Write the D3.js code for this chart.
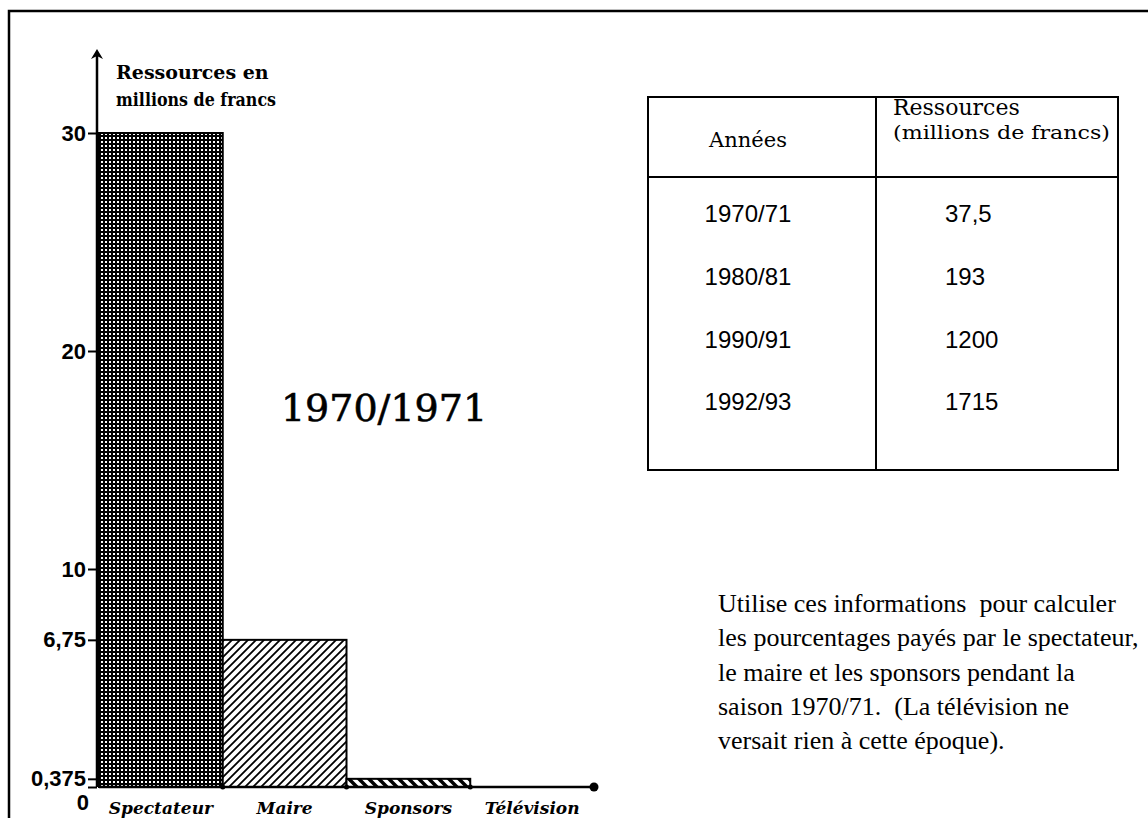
<!DOCTYPE html>
<html>
<head>
<meta charset="utf-8">
<script src="https://cdn.jsdelivr.net/npm/d3@7"></script>
<style>
  body { margin: 0; background: #fff; }
  svg { display: block; }
</style>
</head>
<body>
<div id="my_dataviz"></div>
<script>
// data
var categories = ["Spectateur", "Maire", "Sponsors", "Télévision"];
var ressources = [30, 6.75, 0.375, 0];
var tickValues = [0, 0.375, 6.75, 10, 20, 30];
var tickLabels = ["0", "0,375", "6,75", "10", "20", "30"];
var annees = ["1970/71", "1980/81", "1990/91", "1992/93"];
var totaux = ["37,5", "193", "1200", "1715"];
var consigne = [
  "Utilise ces informations  pour calculer",
  "les pourcentages payés par le spectateur,",
  "le maire et les sponsors pendant la",
  "saison 1970/71.  (La télévision ne",
  "versait rien à cette époque)."
];

var W = 1148, H = 818;

var svg = d3.select("#my_dataviz")
  .append("svg")
    .attr("width", W)
    .attr("height", H);

var defs = svg.append("defs");

// dotted dark fill (spectateur)
var p1 = defs.append("pattern")
  .attr("id", "dots").attr("patternUnits", "userSpaceOnUse")
  .attr("width", 4).attr("height", 4);
p1.append("rect").attr("width", 4).attr("height", 4).attr("fill", "#000");
p1.append("rect").attr("x", 1).attr("y", 1).attr("width", 2).attr("height", 2).attr("fill", "#fff");

// forward hatch (maire)
var p2 = defs.append("pattern")
  .attr("id", "hatch").attr("patternUnits", "userSpaceOnUse")
  .attr("width", 8).attr("height", 8);
p2.append("rect").attr("width", 8).attr("height", 8).attr("fill", "#fff");
p2.append("path").attr("d", "M-2,2 L2,-2 M0,8 L8,0 M6,10 L10,6")
  .attr("stroke", "#000").attr("stroke-width", 1.8);

// back hatch (sponsors)
var p3 = defs.append("pattern")
  .attr("id", "back").attr("patternUnits", "userSpaceOnUse")
  .attr("width", 10).attr("height", 10);
p3.append("rect").attr("width", 10).attr("height", 10).attr("fill", "#fff");
p3.append("path").attr("d", "M-3,-3 L13,13 M-3,7 L3,13 M7,-3 L13,3")
  .attr("stroke", "#000").attr("stroke-width", 3.5);

var fills = ["url(#dots)", "url(#hatch)", "url(#back)", "#fff"];

// outer frame
svg.append("rect")
  .attr("x", 9).attr("y", 11)
  .attr("width", 1200).attr("height", 900)
  .attr("fill", "none").attr("stroke", "#000").attr("stroke-width", 2.5);

// scales
var x = d3.scaleBand()
  .domain(categories)
  .range([99, 594])
  .padding(0);

var y = d3.scaleLinear()
  .domain([0, 30])
  .range([787, 133]);

// bars
svg.selectAll("rect.bar")
  .data(categories)
  .enter()
  .append("rect")
    .attr("class", "bar")
    .attr("x", function(d) { return x(d); })
    .attr("y", function(d, i) { return y(ressources[i]); })
    .attr("width", x.bandwidth())
    .attr("height", function(d, i) { return y(0) - y(ressources[i]); })
    .attr("fill", function(d, i) { return fills[i]; })
    .attr("stroke", "#000")
    .attr("stroke-width", 2);

// baseline
svg.append("line")
  .attr("x1", x.range()[0]).attr("x2", x.range()[1])
  .attr("y1", y(0)).attr("y2", y(0))
  .attr("stroke", "#000").attr("stroke-width", 2.5);

// little knots at the bar corners
svg.selectAll("circle.knot")
  .data(categories)
  .enter()
  .append("circle")
    .attr("cx", function(d) { return x(d) + x.bandwidth(); })
    .attr("cy", y(0))
    .attr("r", function(d, i) { return i == categories.length - 1 ? 4.5 : 2.5; })
    .attr("fill", "#000");

// Y axis
var axis = svg.append("g")
  .attr("transform", "translate(97,0)")
  .call(d3.axisLeft(y)
    .tickValues(tickValues)
    .tickSize(9)
    .tickPadding(2)
    .tickFormat(function(d, i) { return tickLabels[i]; }));
axis.select(".domain").remove();
axis.selectAll("line").attr("stroke", "#000").attr("stroke-width", 2);
axis.selectAll("text")
  .style("font-family", "'Liberation Sans', Arial, sans-serif")
  .style("font-weight", "bold")
  .style("font-size", "22px")
  .attr("fill", "#000");
// the "0" label sits under the 0,375 one
axis.selectAll(".tick").filter(function(d) { return d === 0; })
  .select("text").attr("dy", "1.0em").attr("x", -8);

svg.append("line")
  .attr("x1", 97).attr("x2", 97)
  .attr("y1", y(0)).attr("y2", 54)
  .attr("stroke", "#000").attr("stroke-width", 2.5);
svg.append("path")
  .attr("d", "M91,59 L97,49 L103,59 L97,56 Z")
  .attr("fill", "#000");

// axis title
svg.append("text")
  .attr("x", 116).attr("y", 79)
  .style("font-family", "'DejaVu Serif', serif")
  .style("font-size", "19px")
  .style("font-weight", "bold")
  .text("Ressources en");
svg.append("text")
  .attr("x", 116).attr("y", 106)
  .attr("textLength", 160)
  .attr("lengthAdjust", "spacingAndGlyphs")
  .style("font-family", "'DejaVu Serif', serif")
  .style("font-size", "19px")
  .style("font-weight", "bold")
  .text("millions de francs");

// category labels
svg.selectAll("text.cat")
  .data(categories)
  .enter()
  .append("text")
    .attr("class", "cat")
    .attr("x", function(d) { return x(d) + x.bandwidth() / 2; })
    .attr("y", 814)
    .attr("text-anchor", "middle")
    .style("font-family", "'DejaVu Serif', serif")
    .style("font-size", "17px")
    .style("font-weight", "bold")
    .style("font-style", "italic")
    .text(function(d) { return d; });

// season title
svg.append("text")
  .attr("x", 384).attr("y", 421)
  .attr("text-anchor", "middle")
  .style("font-family", "'DejaVu Serif', serif")
  .style("font-size", "38px")
  .attr("stroke", "#000")
  .attr("stroke-width", 0.6)
  .text("1970/1971");

// table
var tab = {left: 648, right: 1118, top: 97, head: 177, bottom: 470, split: 876};
var tg = svg.append("g");
tg.append("rect")
  .attr("x", tab.left).attr("y", tab.top)
  .attr("width", tab.right - tab.left).attr("height", tab.bottom - tab.top)
  .attr("fill", "none").attr("stroke", "#000").attr("stroke-width", 2);
tg.append("line")
  .attr("x1", tab.left).attr("x2", tab.right)
  .attr("y1", tab.head).attr("y2", tab.head)
  .attr("stroke", "#000").attr("stroke-width", 2);
tg.append("line")
  .attr("x1", tab.split).attr("x2", tab.split)
  .attr("y1", tab.top).attr("y2", tab.bottom)
  .attr("stroke", "#000").attr("stroke-width", 2);

tg.append("text")
  .attr("x", 748).attr("y", 147)
  .attr("text-anchor", "middle")
  .style("font-family", "'DejaVu Serif', serif")
  .style("font-size", "21px")
  .text("Années");
tg.append("text")
  .attr("x", 893).attr("y", 115)
  .style("font-family", "'DejaVu Serif', serif")
  .style("font-size", "22px")
  .text("Ressources");
tg.append("text")
  .attr("x", 893).attr("y", 139)
  .attr("textLength", 217)
  .attr("lengthAdjust", "spacingAndGlyphs")
  .style("font-family", "'DejaVu Serif', serif")
  .style("font-size", "19px")
  .text("(millions de francs)");

var row = d3.scalePoint()
  .domain(annees)
  .range([214, 402]);

tg.selectAll("text.an")
  .data(annees)
  .enter()
  .append("text")
    .attr("class", "an")
    .attr("x", 748)
    .attr("y", function(d) { return row(d); })
    .attr("dy", "0.35em")
    .attr("text-anchor", "middle")
    .style("font-family", "'Liberation Sans', Arial, sans-serif")
    .style("font-size", "24px")
    .text(function(d) { return d; });

tg.selectAll("text.tot")
  .data(totaux)
  .enter()
  .append("text")
    .attr("class", "tot")
    .attr("x", 945)
    .attr("y", function(d, i) { return row(annees[i]); })
    .attr("dy", "0.35em")
    .style("font-family", "'Liberation Sans', Arial, sans-serif")
    .style("font-size", "24px")
    .text(function(d) { return d; });

// instructions
svg.selectAll("text.txt")
  .data(consigne)
  .enter()
  .append("text")
    .attr("class", "txt")
    .attr("x", 718)
    .attr("y", function(d, i) { return 612 + i * 34.3; })
    .style("font-family", "'Liberation Serif', 'Times New Roman', serif")
    .style("font-size", "26px")
    .style("white-space", "pre")
    .text(function(d) { return d; });
</script>
</body>
</html>
